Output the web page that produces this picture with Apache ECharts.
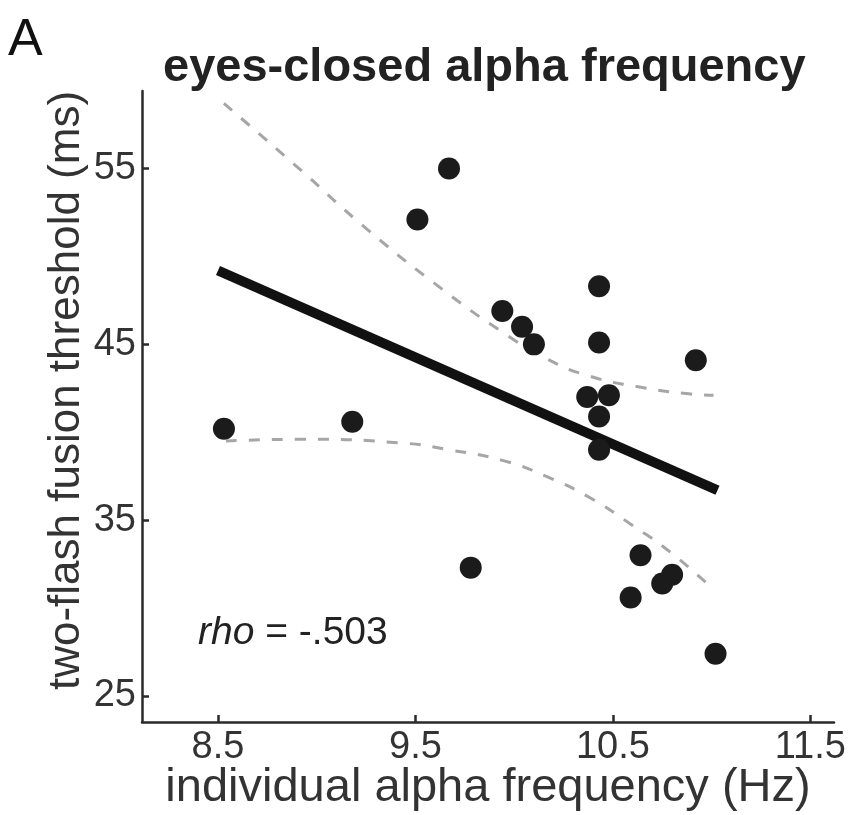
<!DOCTYPE html>
<html>
<head>
<meta charset="utf-8">
<script src="https://cdn.jsdelivr.net/npm/echarts@6/dist/echarts.min.js"></script>
<style>
  html, body { margin: 0; padding: 0; background: #ffffff; }
  #chart { width: 859px; height: 815px; }
</style>
</head>
<body>
<div id="chart"></div>
<script>
// Individual alpha frequency (Hz) per participant
const alphaFreq = [9.67, 9.51, 8.53, 9.18, 9.94, 10.04, 10.10, 10.43, 10.43, 10.92,
                   10.37, 10.48, 10.43, 10.43, 9.78, 10.64, 10.80, 10.75, 10.59, 11.02];
// Two-flash fusion threshold (ms) per participant
const threshold = [55.0, 52.1, 40.2, 40.6, 46.9, 46.0, 45.0, 48.3, 45.1, 44.1,
                   42.0, 42.1, 40.9, 39.0, 32.3, 33.0, 31.9, 31.4, 30.6, 27.4];

// Least-squares fit
const fitFreq = [8.5, 11.03];
const fitThreshold = [49.2, 36.7];

// Confidence band of the fit
const upperFreq = [8.53, 8.89, 9.26, 9.64, 9.94, 10.16, 10.38, 10.62, 10.87, 11.01];
const upperThreshold = [58.7, 55.2, 51.5, 48.1, 45.7, 44.2, 43.2, 42.6, 42.2, 42.1];
const lowerFreq = [8.54, 8.92, 9.42, 9.67, 9.94, 10.16, 10.38, 10.60, 10.80, 11.01];
const lowerThreshold = [39.5, 39.6, 39.4, 39.0, 38.4, 37.5, 36.3, 34.7, 33.1, 31.05];

const xTicks = [8.5, 9.5, 10.5, 11.5];
const yTicks = [25, 35, 45, 55];

const rhoValue = '-.503';

const zip = (a, b) => a.map((v, i) => [v, b[i]]);
const FONT = '"Liberation Sans", Arial, Helvetica, sans-serif';
const AXIS_COLOR = '#2a2a2a';
const TEXT_COLOR = '#333333';

const chart = echarts.init(document.getElementById('chart'), null, { renderer: 'canvas' });

const bandStyle = { color: '#a6a6a6', width: 3, type: [11, 12] };

chart.setOption({
  animation: false,
  backgroundColor: '#ffffff',
  textStyle: { fontFamily: FONT },
  grid: { left: 142, right: 25, top: 91, bottom: 93, outerBoundsMode: 'none', containLabel: false },
  xAxis: {
    type: 'value',
    min: 8.115,
    max: 11.62,
    name: 'individual alpha frequency (Hz)',
    nameLocation: 'middle',
    nameGap: 43,
    nameMoveOverlap: false,
    nameTextStyle: { fontSize: 47, color: TEXT_COLOR, fontFamily: FONT },
    axisLine: { show: true, onZero: false, lineStyle: { color: AXIS_COLOR, width: 2.5 } },
    axisTick: { show: true, inside: true, length: 7, customValues: xTicks,
                lineStyle: { color: AXIS_COLOR, width: 2.5 } },
    axisLabel: { customValues: xTicks, fontSize: 38, color: TEXT_COLOR, margin: 7,
                 fontFamily: FONT, formatter: v => String(v) },
    splitLine: { show: false }
  },
  yAxis: {
    type: 'value',
    min: 23.52,
    max: 59.41,
    name: 'two-flash fusion threshold (ms)',
    nameLocation: 'middle',
    nameRotate: 90,
    nameGap: 53,
    nameMoveOverlap: false,
    nameTextStyle: { fontSize: 44, color: TEXT_COLOR, fontFamily: FONT,
                     padding: [0, 0, 0, 32] },
    axisLine: { show: true, onZero: false, lineStyle: { color: AXIS_COLOR, width: 2.5 } },
    axisTick: { show: true, inside: true, length: 7, customValues: yTicks,
                lineStyle: { color: AXIS_COLOR, width: 2.5 } },
    axisLabel: { customValues: yTicks, fontSize: 38, color: TEXT_COLOR, margin: 6,
                 fontFamily: FONT },
    splitLine: { show: false }
  },
  graphic: [
    {
      type: 'text', left: 8, top: 15,
      style: { text: 'A', fontSize: 52, fill: '#111111', fontFamily: FONT }
    },
    {
      type: 'text', left: 163, top: 45,
      style: { text: 'eyes-closed alpha frequency', fontSize: 47, fontWeight: 'bold',
               fill: '#222222', fontFamily: FONT }
    },
    {
      type: 'text', left: 198, top: 614,
      style: {
        text: '{i|rho} = ' + rhoValue,
        fontSize: 39, fill: '#222222', fontFamily: FONT,
        rich: { i: { fontStyle: 'italic', fontSize: 39, fill: '#222222', fontFamily: FONT } }
      }
    }
  ],
  series: [
    {
      name: 'upper bound', type: 'line', data: zip(upperFreq, upperThreshold),
      smooth: true, showSymbol: false, symbol: 'none', z: 1,
      lineStyle: bandStyle
    },
    {
      name: 'lower bound', type: 'line', data: zip(lowerFreq, lowerThreshold),
      smooth: true, showSymbol: false, symbol: 'none', z: 1,
      lineStyle: bandStyle
    },
    {
      name: 'fit', type: 'line', data: zip(fitFreq, fitThreshold),
      showSymbol: false, symbol: 'none', z: 2,
      lineStyle: { color: '#111111', width: 10, cap: 'butt' }
    },
    {
      name: 'participants', type: 'scatter', data: zip(alphaFreq, threshold),
      symbol: 'circle', symbolSize: 22, z: 3,
      itemStyle: { color: '#1b1b1b', opacity: 1 }
    }
  ]
});
</script>
</body>
</html>
